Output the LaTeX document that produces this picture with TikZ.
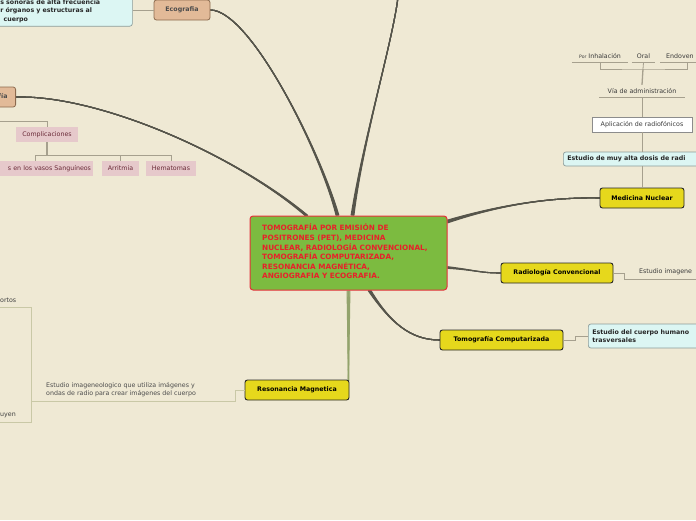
\documentclass[tikz,border=0pt]{standalone}
\usepackage{fontspec}
\setmainfont{DejaVu Sans}
\usetikzlibrary{calc,backgrounds}
\definecolor{bgc}{HTML}{EFE9D4}
\definecolor{cgreen}{HTML}{7CBB40}
\definecolor{cred}{HTML}{E6303A}
\definecolor{ctext}{HTML}{E8202A}
\definecolor{cyel}{HTML}{E6D81C}
\definecolor{ctan}{HTML}{E2BA98}
\definecolor{ctanb}{HTML}{8C6A4E}
\definecolor{ccyan}{HTML}{DCF6F3}
\definecolor{ccyanb}{HTML}{8C9C9A}
\definecolor{cpink}{HTML}{E6C9CB}
\definecolor{cpinkt}{HTML}{6A2A38}
\definecolor{cline}{HTML}{56554B}
\definecolor{cthin}{HTML}{A6A08E}
\definecolor{colive}{HTML}{C9C8A6}
\definecolor{cres}{HTML}{93A36C}
\definecolor{ctxt}{HTML}{3A3A3A}
\begin{document}
\begin{tikzpicture}[x=1pt,y=-1pt,
  f/.style={font=\fontsize{6.3}{8}\selectfont},
  bf/.style={font=\bfseries\fontsize{6.3}{8.5}\selectfont},
  mainbox/.style={draw=cred, fill=cgreen, rounded corners=3pt, line width=1pt, inner sep=0},
  ybox/.style={draw=black!85, fill=cyel, rounded corners=2.5pt, line width=0.9pt, bf, inner sep=0, minimum height=20},
  tbox/.style={draw=ctanb, fill=ctan, rounded corners=2.5pt, line width=0.8pt, bf, text=black!70, minimum height=20, inner sep=0},
  cbox/.style={draw=ccyanb, fill=ccyan, rounded corners=2.5pt, line width=0.7pt, bf, text=black!85, inner ysep=0},
  pbox/.style={fill=cpink, f, text=cpinkt, minimum height=15, inner sep=0},
  wbox/.style={draw=black!45, fill=white, f, text=ctxt, minimum height=15, inner sep=0},
  plain/.style={f, text=ctxt, inner sep=0},
  thin/.style={draw=cthin, line width=0.8pt},
  oline/.style={draw=colive, line width=0.9pt},
  mainline/.style={draw=cline, line width=1.1pt},
  resline/.style={draw=cres, line width=1.1pt}]
\begin{scope}[on background layer]
\fill[bgc] (0,0) rectangle (696,520);
\end{scope}
\useasboundingbox (0,0) rectangle (696,520);

% central
\node[mainbox, minimum width=197, minimum height=74] (c) at (348.5,253) {};
\node[anchor=north west, align=left, text=ctext, inner sep=0,
  font=\bfseries\fontsize{7.3}{9.6}\selectfont] (ct) at (262,224)
  {TOMOGRAFÍA POR EMISIÓN DE\\POSITRONES (PET), MEDICINA\\NUCLEAR, RADIOLOGÍA CONVENCIONAL,\\TOMOGRAFÍA COMPUTARIZADA,\\RESONANCIA MAGNÉTICA,\\ANGIOGRAFIA Y ECOGRAFIA.};

% main topics
\node[ybox, minimum width=84] (mn) at (642,198) {Medicina Nuclear};
\node[ybox, minimum width=112] (rc) at (557,273) {Radiología Convencional};
\node[ybox, minimum width=123] (tc) at (501.5,340) {Tomografía Computarizada};
\node[ybox, minimum width=104] (rm) at (297,390) {Resonancia Magnetica};
\node[tbox, minimum width=56] (eco) at (182,10) {Ecografia};
\node[tbox, anchor=east, inner xsep=8, text width=54, align=right] (ang) at (16,97) {Angiografía};
\coordinate (topend) at (398,-3);

% Ecografia description
\node[cbox, anchor=south west, minimum height=30, text width=129, inner xsep=3, align=left] (ecod) at (-3,26.5)
  {s sonoras de alta frecuencia\\r órganos y estructuras al\\\hspace*{3.2pt}cuerpo};
\draw[thin] (eco.west) -- (ecod.east |- eco.west);

% Medicina nuclear branch
\node[cbox, anchor=west, minimum height=14, text width=140, inner xsep=4, align=left] (dosis) at (563,159) {Estudio de muy alta dosis de radi};
\node[wbox, minimum width=100] (apl) at (642,124.5) {Aplicación de radiofónicos};
\node[plain, minimum width=85, minimum height=12] (via) at (642,91) {Vía de administración};
\draw[thin] (via.south west) -- (via.south east);
\node[plain, minimum width=56, minimum height=13] (inh) at (600,56) {{\fontsize{4.6}{5}\selectfont Por} Inhalación};
\node[plain, minimum width=23, minimum height=13] (oral) at (643.5,56) {Oral};
\node[plain, anchor=west, inner xsep=6, minimum height=13] (endo) at (660,56) {Endoven};
\draw[thin] (inh.south west) -- (inh.south east);
\draw[thin] (oral.south west) -- (oral.south east);
\draw[thin] (endo.south west) -- ++(40,0);
\coordinate (jn) at (643,69);
\coordinate (ej) at (687,62.5);
\draw[thin] (inh.south) |- (jn) -| (ej);
\draw[thin] (oral.south) -- (jn);
\draw[thin, line width=1.3pt] (jn) -- (via.north);
\draw[thin] (via.south) -- (apl.north);
\draw[thin] (apl.south) -- (apl.south |- dosis.north);
\draw[thin] (mn.north) -- (mn.north |- dosis.south);

% Radiologia branch
\node[plain, anchor=west] (rcd) at (639,272) {Estudio imagene};
\coordinate (rcu) at (624,279);
\coordinate (rce) at (700,279);
\draw[thin] (rc.east) -| (rcu) -- (rce);

% Tomografia branch
\node[cbox, anchor=west, minimum height=24, text width=130, inner xsep=4, align=left] (tcd) at (588,336) {Estudio del cuerpo humano\\trasversales};
\draw[thin] (tc.east) -- ++(12,0) |- (tcd.west);

% Resonancia branch
\node[plain, anchor=west, align=left, text=black!70, font=\fontsize{6.3}{8.2}\selectfont] (rmd) at (46,390) {Estudio imageneologico que utiliza imágenes y\\ondas de radio para crear imágenes del cuerpo};
\coordinate (rj) at (235,401.5);
\coordinate (bj) at (31.5,401.5);
\draw[oline] (rm.west) -| (rj) -- (bj);
\node[plain, anchor=west, text=black!75] (ort) at (0,300) {ortos};
\node[plain, anchor=west, text=black!75] (uy) at (0,415) {uyen};
\coordinate (bt) at (31.5,307);
\coordinate (bb) at (31.5,422);
\coordinate (bt0) at (-3,307);
\coordinate (bb0) at (-3,422);
\draw[oline] (bt0) -- (bt) -- (bb) -- (bb0);

% Angiografia branch
\node[pbox, minimum width=62] (comp) at (47,134.5) {Complicaciones};
\node[pbox, inner xsep=2, text width=112, align=right] (les) at (35,168.5) {s en los vasos Sanguíneos};
\node[pbox, minimum width=37] (arr) at (120.5,168.5) {Arritmia};
\node[pbox, minimum width=50] (hem) at (171,168.5) {Hematomas};
\coordinate (aj) at (47,121);
\coordinate (cj) at (47,155);
\draw[thin] (ang.south) |- (aj) -- (comp.north);
\draw[thin, line width=1.2pt] (comp.south) -- (cj);
\draw[thin] (les.north) |- (hem.north |- cj) -- (hem.north);
\draw[thin] (arr.north) -- (arr.north |- cj);

% main tapered connectors
\begin{scope}[on background layer]
\foreach \d in {-1.4,-0.7,0,0.7,1.4}{
  \draw[mainline] ($(c.north west)+(103+\d,0)$) .. controls (363,140) and (393,40) .. (topend);
  \draw[mainline] ($(c.north west)+(88+\d,0)$) .. controls (320,150) and (250,10) .. (eco.east);
  \draw[mainline] ($(c.north west)+(57+\d,0)$) .. controls (235,155) and (100,95) .. (ang.east);
  \draw[mainline] ($(c.north east)+(0,6+\d)$) .. controls (500,205) and (550,197) .. (mn.west);
  \draw[mainline] ($(c.south west)+(120+\d,0)$) .. controls (390,322) and (410,340) .. (tc.west);
  \draw[resline] ($(c.south west)+(99+\d,0)$) -- ($(rm.north east)+(-1,1)$);
}
\foreach \d in {-0.8,0,0.8}{
  \draw[mainline] ($(c.north east)+(0,52+\d)$) .. controls (475,270) and (480,273) .. (rc.west);
}
\end{scope}
\end{tikzpicture}
\end{document}
